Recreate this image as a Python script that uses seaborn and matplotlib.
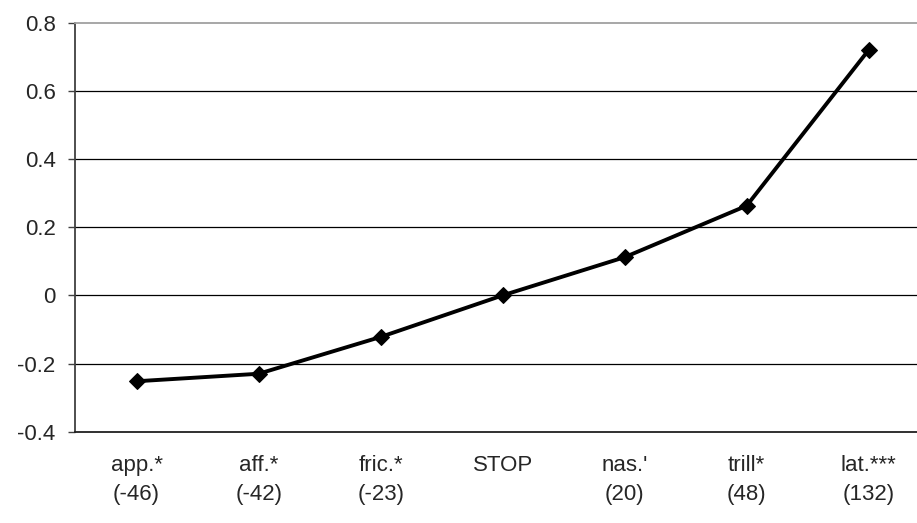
import numpy as np
import pandas as pd
import seaborn as sns
import matplotlib.pyplot as plt

categories = ["app.*", "aff.*", "fric.*", "STOP", "nas.'", "trill*", "lat.***"]
counts = ["(-46)", "(-42)", "(-23)", "", "(20)", "(48)", "(132)"]
values = [-0.252, -0.230, -0.122, 0.0, 0.112, 0.263, 0.720]
yticks = [-0.4, -0.2, 0, 0.2, 0.4, 0.6, 0.8]

sns.set_style("white")
plt.rcParams["font.family"] = ["Liberation Sans", "DejaVu Sans"]

df = pd.DataFrame({"pos": np.arange(len(categories)), "value": values})

fig = plt.figure(figsize=(9.17, 5.23), dpi=100)
ax = fig.add_axes([75 / 917, 1 - 431.7 / 523, 1 - 75 / 917, (431.7 - 22.7) / 523])

# horizontal gridlines
for y in yticks[1:-1]:
    ax.axhline(y, color="black", lw=0.9, zorder=1)

sns.lineplot(data=df, x="pos", y="value", color="black", lw=2.8,
             marker="D", markersize=8, markeredgecolor="black", ax=ax, zorder=3)

ax.set_ylim(-0.4, 0.8)
ax.set_xlim(-0.505, 6.396)
ax.set_yticks(yticks)
ax.set_yticklabels(["-0.4", "-0.2", "0", "0.2", "0.4", "0.6", "0.8"], fontsize=16)
ax.set_xticks(range(len(categories)))
ax.set_xticklabels([c + "\n" + n for c, n in zip(categories, counts)], fontsize=16,
                   linespacing=1.5)
ax.tick_params(axis="y", length=5, width=1, color="#404040", pad=9, left=True)
ax.tick_params(axis="x", length=0, pad=17)
ax.set_xlabel("")
ax.set_ylabel("")

ax.spines["left"].set_color("#404040")
ax.spines["left"].set_linewidth(1.3)
ax.spines["bottom"].set_color("#202020")
ax.spines["bottom"].set_linewidth(1.3)
ax.spines["top"].set_color("#a0a0a0")
ax.spines["top"].set_linewidth(1.3)
ax.spines["right"].set_visible(False)

fig.savefig("out.png", dpi=100)
